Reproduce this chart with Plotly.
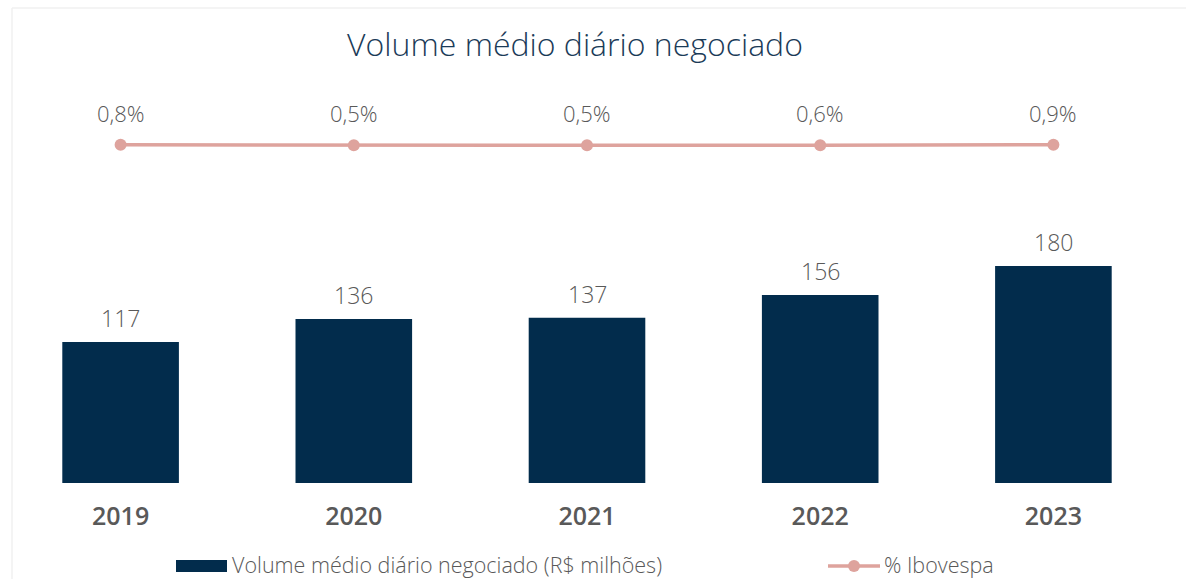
import plotly.graph_objects as go

years = ["2019", "2020", "2021", "2022", "2023"]
volume = [117, 136, 137, 156, 180]
ibov_pct = [0.8, 0.5, 0.5, 0.6, 0.9]
volume_labels = ["117", "136", "137", "156", "180"]
ibov_labels = ["0,8%", "0,5%", "0,5%", "0,6%", "0,9%"]
bar_name = "Volume médio diário negociado (R$ milhões)"
line_name = "% Ibovespa"

BAR_COLOR = "#022c4c"
LINE_COLOR = "#dea39d"
TEXT_GREY = "#595959"
TITLE_COLOR = "#1b3b58"
FONT = "Open Sans"

W, H = 1186, 579
ML, MR, MT, MB = 4, 16, 90, 96
PW = W - ML - MR
PH = H - MT - MB


def px(x):
    return (x - ML) / PW


def py(y):
    return (H - MB - y) / PH


fig = go.Figure()
fig.add_trace(go.Bar(
    x=years, y=volume, name=bar_name,
    marker=dict(color=BAR_COLOR, line=dict(width=0)),
    yaxis="y", hoverinfo="skip", showlegend=False,
))
fig.add_trace(go.Scatter(
    x=years, y=ibov_pct, name=line_name, mode="lines+markers",
    line=dict(color=LINE_COLOR, width=3.5),
    marker=dict(color=LINE_COLOR, size=12),
    yaxis="y2", hoverinfo="skip", showlegend=False,
))

for i, (v, t) in enumerate(zip(volume, volume_labels)):
    fig.add_annotation(x=i, y=v, xref="x", yref="y", text=t, showarrow=False,
                       yanchor="middle", yshift=24,
                       font=dict(family=FONT, size=23, color=TEXT_GREY, weight=300))
for i, (v, t) in enumerate(zip(ibov_pct, ibov_labels)):
    fig.add_annotation(x=i, y=v, xref="x", yref="y2", text=t, showarrow=False,
                       yanchor="middle", yshift=32,
                       font=dict(family=FONT, size=22, color=TEXT_GREY, weight=300))

# faint frame
border = "#f1f1f1"
fig.add_shape(type="line", xref="paper", yref="paper", x0=px(12), x1=px(W), y0=py(8), y1=py(8),
              line=dict(color=border, width=1.5), layer="below")
fig.add_shape(type="line", xref="paper", yref="paper", x0=px(12), x1=px(12), y0=py(8), y1=py(H),
              line=dict(color=border, width=1.5), layer="below")

# custom legend
LEG_Y = 565
fig.add_shape(type="rect", xref="paper", yref="paper", x0=px(176), x1=px(227),
              y0=py(572), y1=py(560), fillcolor=BAR_COLOR, line=dict(width=0))
fig.add_annotation(xref="paper", yref="paper", x=px(230), y=py(LEG_Y - 1), text=bar_name,
                   showarrow=False, xanchor="left", yanchor="middle",
                   font=dict(family=FONT, size=21.5, color=TEXT_GREY, weight=300))
fig.add_shape(type="line", xref="paper", yref="paper", x0=px(828), x1=px(880),
              y0=py(LEG_Y + 1), y1=py(LEG_Y + 1), line=dict(color=LINE_COLOR, width=3.5))
fig.add_shape(type="circle", xref="paper", yref="paper", x0=px(848), x1=px(860),
              y0=py(LEG_Y + 7), y1=py(LEG_Y - 5), fillcolor=LINE_COLOR, line=dict(width=0))
fig.add_annotation(xref="paper", yref="paper", x=px(882), y=py(LEG_Y - 1), text=line_name,
                   showarrow=False, xanchor="left", yanchor="middle",
                   font=dict(family=FONT, size=21.5, color=TEXT_GREY, weight=300))

fig.update_layout(
    width=W, height=H,
    margin=dict(l=ML, r=MR, t=MT, b=MB),
    paper_bgcolor="white", plot_bgcolor="white",
    font=dict(family=FONT, color=TEXT_GREY),
    title=dict(text="Volume médio diário negociado", x=575 / W, xref="container", xanchor="center",
               y=1 - 45 / H, yref="container", yanchor="middle",
               font=dict(family=FONT, size=32, color=TITLE_COLOR, weight=300)),
    bargap=0.5,
    xaxis=dict(type="category", range=[-0.5, 4.5], showgrid=False, showline=False, zeroline=False,
               ticks="", ticklabelstandoff=16,
               tickfont=dict(family=FONT, size=25, color=TEXT_GREY, weight=600)),
    yaxis=dict(range=[0, PH / 1.2055], visible=False, showgrid=False, zeroline=False),
    yaxis2=dict(range=[-197.1, 32.9], overlaying="y", visible=False, showgrid=False, zeroline=False),
    showlegend=False,
)

fig.write_html("out.html", config={"displayModeBar": False},
               post_script="document.body.style.margin='0';document.body.style.overflow='hidden';")
